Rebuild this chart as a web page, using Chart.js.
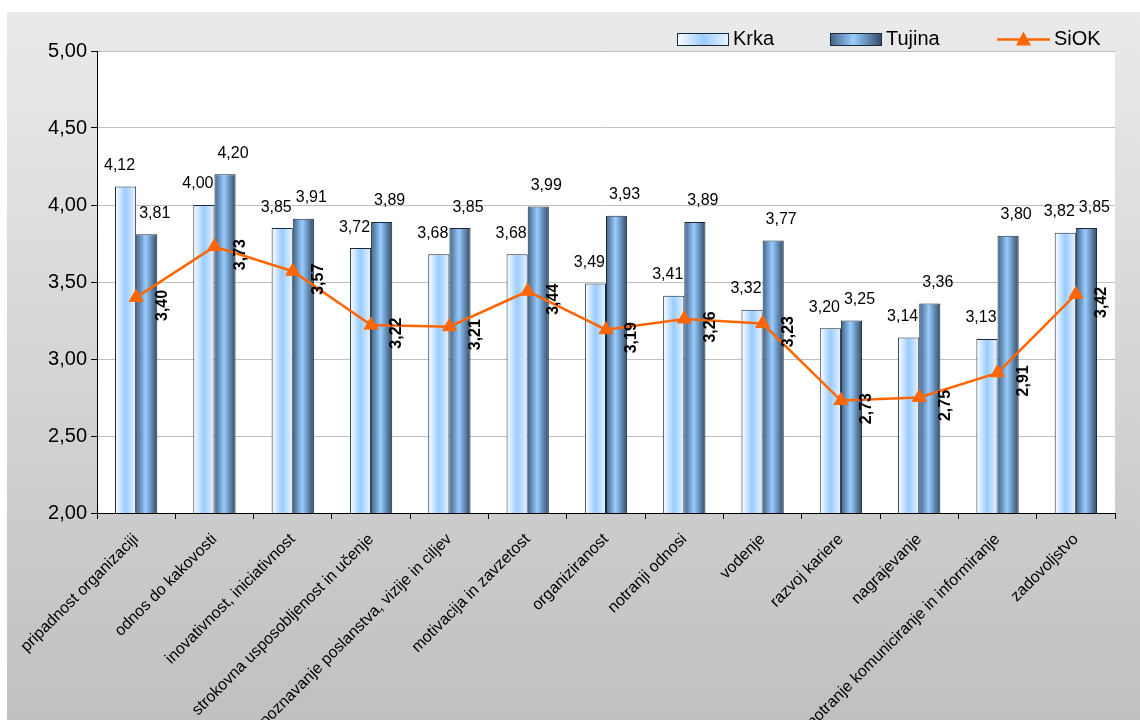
<!DOCTYPE html>
<html>
<head>
<meta charset="utf-8">
<script src="https://cdn.jsdelivr.net/npm/chart.js@4/dist/chart.umd.min.js"></script>
<style>
  html, body { margin: 0; padding: 0; background: #fff; }
  #wrap { width: 1140px; height: 720px; }
</style>
</head>
<body>
<div id="wrap"><canvas id="myChart" width="1140" height="720"></canvas></div>
<script>
// podatki
const categories = [
  'pripadnost organizaciji', 'odnos do kakovosti', 'inovativnost, iniciativnost',
  'strokovna usposobljenost in učenje', 'poznavanje poslanstva, vizije in ciljev',
  'motivacija in zavzetost', 'organiziranost', 'notranji odnosi', 'vodenje',
  'razvoj kariere', 'nagrajevanje', 'notranje komuniciranje in informiranje', 'zadovoljstvo'
];
const krka = [4.12, 4.00, 3.85, 3.72, 3.68, 3.68, 3.49, 3.41, 3.32, 3.20, 3.14, 3.13, 3.82];
const tujina = [3.81, 4.20, 3.91, 3.89, 3.85, 3.99, 3.93, 3.89, 3.77, 3.25, 3.36, 3.80, 3.85];
const siok = [3.40, 3.73, 3.57, 3.22, 3.21, 3.44, 3.19, 3.26, 3.23, 2.73, 2.75, 2.91, 3.42];
const yTicks = [2.0, 2.5, 3.0, 3.5, 4.0, 4.5, 5.0];

const FONT = '"Liberation Sans", Arial, sans-serif';
const CAT_PCT = 0.54;
const fmt = v => v.toFixed(2).replace('.', ',');

// gradient za stolpce
function barGradient(ctx, stops) {
  const chart = ctx.chart;
  const x = chart.scales.x;
  if (!x || !chart.chartArea) return stops[1][1];
  const c = x.getPixelForValue(ctx.dataIndex);
  const bw = (x.width / categories.length) * CAT_PCT / 2;
  const left = ctx.datasetIndex === 0 ? c - bw : c;
  const g = chart.ctx.createLinearGradient(left, 0, left + bw, 0);
  stops.forEach(s => g.addColorStop(s[0], s[1]));
  return g;
}
const krkaStops = [[0, '#ffffff'], [0.5, '#99ccff'], [1, '#eaf4ff']];
const tujinaStops = [[0, '#3f6285'], [0.45, '#99ccff'], [1, '#2f4a66']];

const bgPlugin = {
  id: 'bg',
  beforeDraw(chart) {
    const c = chart.ctx, a = chart.chartArea;
    c.save();
    c.fillStyle = '#fff';
    c.fillRect(0, 0, chart.width, chart.height);
    const g = c.createLinearGradient(0, 12, 0, chart.height);
    g.addColorStop(0, '#eaeaea');
    g.addColorStop(1, '#c0c0c0');
    c.fillStyle = g;
    c.fillRect(7, 12, chart.width - 7, chart.height - 12);
    c.fillStyle = '#fff';
    c.fillRect(a.left, a.top, a.right - a.left, a.bottom - a.top);
    c.restore();
  }
};

const labelPlugin = {
  id: 'labels',
  afterDatasetsDraw(chart) {
    const c = chart.ctx;
    c.save();
    c.fillStyle = '#000';
    c.textAlign = 'center';
    c.textBaseline = 'middle';
    chart.data.datasets.forEach((ds, di) => {
      const meta = chart.getDatasetMeta(di);
      meta.data.forEach((el, i) => {
        const txt = fmt(ds.data[i]);
        if (ds.type === 'line') {
          c.save();
          c.font = 'bold 16px ' + FONT;
          c.translate(el.x + 26, el.y + 8);
          c.rotate(-Math.PI / 2);
          c.fillText(txt, 0, 0);
          c.restore();
        } else {
          c.font = '16px ' + FONT;
          const dx = di === 0 ? -6 : 8;
          c.fillText(txt, el.x + dx, el.y - 21);
        }
      });
    });
    c.restore();
  }
};

const legendPlugin = {
  id: 'myLegend',
  afterDraw(chart) {
    const c = chart.ctx;
    const items = [
      { x: 677, name: chart.data.datasets[0].label, stops: krkaStops },
      { x: 830, name: chart.data.datasets[1].label, stops: tujinaStops },
      { x: 997, name: chart.data.datasets[2].label, line: true }
    ];
    c.save();
    c.font = '20px ' + FONT;
    c.textBaseline = 'middle';
    c.fillStyle = '#000';
    const y = 39.5;
    items.forEach(it => {
      if (it.line) {
        c.strokeStyle = '#ff6600';
        c.lineWidth = 2.5;
        c.beginPath();
        c.moveTo(it.x, y); c.lineTo(it.x + 53, y);
        c.stroke();
        c.fillStyle = '#ff6600';
        c.beginPath();
        c.moveTo(it.x + 26.5, y - 8); c.lineTo(it.x + 34, y + 6); c.lineTo(it.x + 19, y + 6);
        c.closePath(); c.fill();
        c.fillStyle = '#000';
        c.fillText(it.name, it.x + 57, y);
      } else {
        const g = c.createLinearGradient(it.x, 0, it.x + 52, 0);
        it.stops.forEach(s => g.addColorStop(s[0], s[1]));
        c.fillStyle = g;
        c.fillRect(it.x, y - 6.5, 52, 13);
        c.strokeStyle = '#1a2a3a';
        c.lineWidth = 1;
        c.strokeRect(it.x + 0.5, y - 6, 51, 12);
        c.fillStyle = '#000';
        c.fillText(it.name, it.x + 56, y);
      }
    });
    c.restore();
  }
};

const ctx = document.getElementById('myChart').getContext('2d');
const myChart = new Chart(ctx, {
  type: 'bar',
  data: {
    labels: categories,
    datasets: [
      {
        label: 'Krka', data: krka, order: 1,
        backgroundColor: c => barGradient(c, krkaStops),
        borderColor: '#1a2a3a', borderWidth: 1,
        categoryPercentage: CAT_PCT, barPercentage: 1
      },
      {
        label: 'Tujina', data: tujina, order: 1,
        backgroundColor: c => barGradient(c, tujinaStops),
        borderColor: '#1a2a3a', borderWidth: 1,
        categoryPercentage: CAT_PCT, barPercentage: 1
      },
      {
        label: 'SiOK', data: siok, type: 'line', order: 0,
        borderColor: '#ff6600', backgroundColor: '#ff6600', borderWidth: 2.5,
        pointStyle: 'triangle', pointRadius: 8, pointBorderWidth: 1,
        tension: 0
      }
    ]
  },
  options: {
    responsive: false,
    animation: false,
    layout: { padding: { top: 51, right: 25, left: 0, bottom: 0 } },
    plugins: { legend: { display: false }, tooltip: { enabled: false } },
    scales: {
      x: {
        offset: true,
        grid: { display: true, drawOnChartArea: false, offset: true, tickLength: 6, tickColor: '#000' },
        border: { color: '#000', width: 1 },
        ticks: {
          minRotation: 45, maxRotation: 45, autoSkip: false, padding: 11,
          color: '#000', font: { family: FONT, size: 16 }
        },
        afterFit: s => { s.height = 207; }
      },
      y: {
        min: 2, max: 5,
        afterBuildTicks: s => { s.ticks = yTicks.map(v => ({ value: v })); },
        grid: { color: '#c0c0c0', tickColor: '#000', tickLength: 6 },
        border: { color: '#000', width: 1 },
        ticks: {
          color: '#000', padding: 4, font: { family: FONT, size: 20 },
          callback: v => fmt(v)
        },
        afterFit: s => { s.width = 97; }
      }
    }
  },
  plugins: [bgPlugin, labelPlugin, legendPlugin]
});
</script>
</body>
</html>
